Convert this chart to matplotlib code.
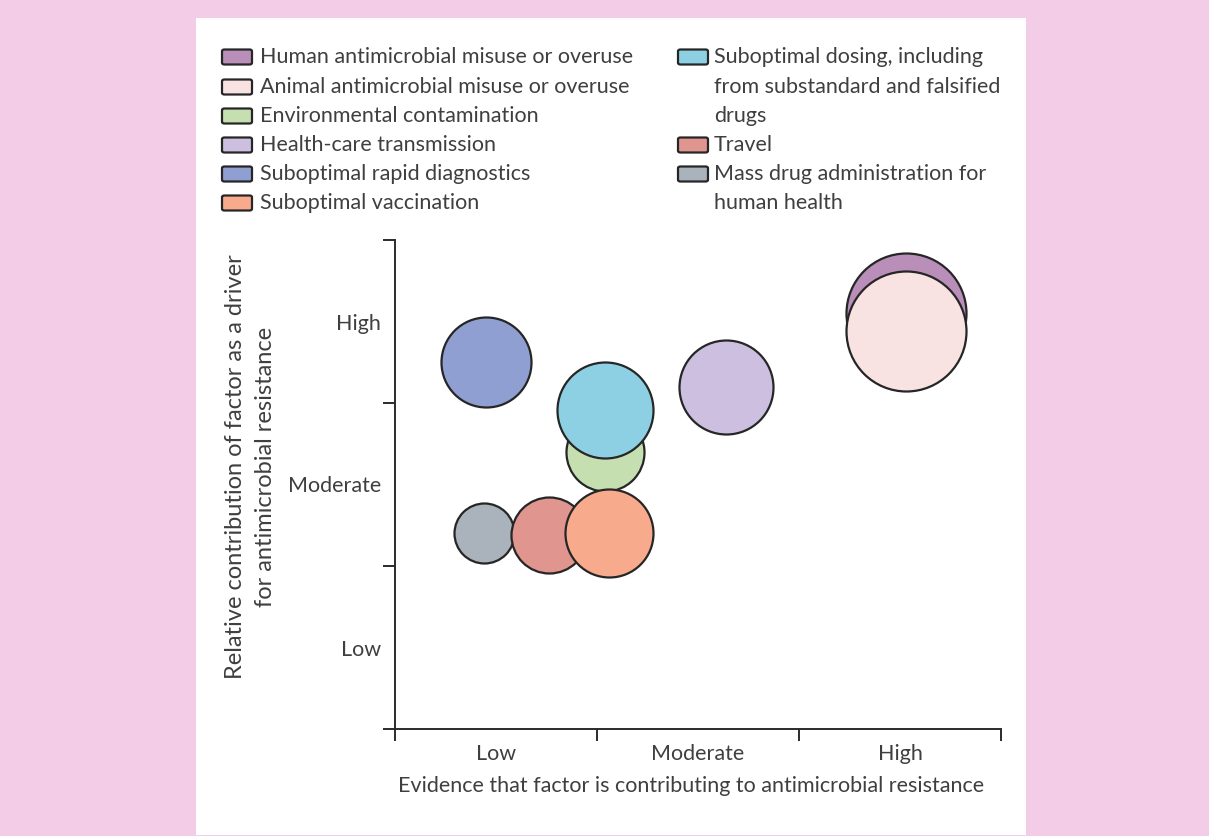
import matplotlib
matplotlib.use("Agg")
import matplotlib.pyplot as plt
from matplotlib.patches import Rectangle, FancyBboxPatch

plt.rcParams['font.family'] = ['Lato', 'DejaVu Sans']

# ---- data ----
factors = [
    "Human antimicrobial misuse or overuse",
    "Animal antimicrobial misuse or overuse",
    "Environmental contamination",
    "Health-care transmission",
    "Suboptimal rapid diagnostics",
    "Suboptimal vaccination",
    "Suboptimal dosing, including\nfrom substandard and falsified\ndrugs",
    "Travel",
    "Mass drug administration for\nhuman health",
]
evidence = [2.53, 2.53, 1.04, 1.64, 0.45, 1.06, 1.04, 0.76, 0.44]
contribution = [2.55, 2.44, 1.70, 2.10, 2.25, 1.20, 1.96, 1.19, 1.20]
bubble_size = [60, 60, 39, 47, 45, 44, 48, 38, 30]
colors = ["#b98fb9", "#f8e2e2", "#c6dfb0", "#cdbfdf", "#8f9fd1",
          "#f7aa8c", "#8ed0e3", "#e0958f", "#aab2bc"]
draw_order = [0, 1, 4, 3, 8, 7, 2, 5, 6]
tick_labels = ["Low", "Moderate", "High"]

W, H = 1209, 836
FS = 15.5
fig = plt.figure(figsize=(W / 100, H / 100), dpi=100)
fig.patch.set_facecolor("#f3cce7")
fig.patches.append(Rectangle((196 / W, 1 / H), (1026 - 196) / W, 1 - 19 / H,
                             transform=fig.transFigure, facecolor="white",
                             edgecolor="none", zorder=-5))

ax = fig.add_axes([395 / W, 1 - 729 / H, (1001 - 395) / W, (729 - 240) / H])
ax.set_facecolor("none")
ax.set_xlim(0, 3)
ax.set_ylim(0, 3)
for s in ["top", "right"]:
    ax.spines[s].set_visible(False)
for s in ["left", "bottom"]:
    ax.spines[s].set_linewidth(1.4)
    ax.spines[s].set_color("#2b2b2b")

txt = "#3f3f3f"
ax.set_xticks([0, 1, 2, 3])
ax.set_yticks([0, 1, 2, 3])
ax.set_xticklabels([])
ax.set_yticklabels([])
ax.tick_params(which="major", direction="out", length=8.5, width=1.4, color="#2b2b2b")
ax.set_xticks([0.5, 1.5, 2.5], minor=True)
ax.set_yticks([0.5, 1.5, 2.5], minor=True)
ax.set_xticklabels(tick_labels, minor=True)
ax.set_yticklabels(tick_labels, minor=True)
ax.tick_params(which="minor", length=0, labelsize=FS, labelcolor=txt)
ax.tick_params(axis="x", which="minor", pad=11)
ax.tick_params(axis="y", which="minor", pad=10)

for i in draw_order:
    d_pt = 2 * bubble_size[i] * 72 / 100
    ax.scatter(evidence[i], contribution[i], s=d_pt ** 2, color=colors[i],
               edgecolors="#262626", linewidths=1.6, zorder=3 + draw_order.index(i),
               clip_on=False)

fig.text(691 / W, 1 - 786 / H,
         "Evidence that factor is contributing to antimicrobial resistance",
         ha="center", va="center", fontsize=FS, color=txt)
ylab = ["Relative contribution of factor as a driver", "for antimicrobial resistance"]
for xx, line in zip([236, 265], ylab):
    fig.text(xx / W, 1 - 467 / H, line, ha="center", va="center", rotation=90,
             fontsize=17, color=txt)

# ---- legend ----
row_y = [57, 87, 116, 145, 174, 203]


def swatch(x, y, c):
    fig.patches.append(FancyBboxPatch((x / W, 1 - (y + 7.5) / H), 30 / W, 15 / H,
                                      boxstyle="round,pad=0,rounding_size=0.002",
                                      transform=fig.transFigure, facecolor=c,
                                      edgecolor="#262626", linewidth=1.6))


for k, i in enumerate([0, 1, 2, 3, 4, 5]):
    y = row_y[k]
    swatch(222, y, colors[i])
    fig.text(260 / W, 1 - y / H, factors[i], ha="left", va="center",
             fontsize=FS, color=txt)

for i, r in [(6, 0), (7, 3), (8, 4)]:
    swatch(678, row_y[r], colors[i])
    for j, line in enumerate(factors[i].split("\n")):
        fig.text(714 / W, 1 - row_y[r + j] / H, line, ha="left", va="center",
                 fontsize=FS, color=txt)

fig.savefig("out.png", dpi=100)
